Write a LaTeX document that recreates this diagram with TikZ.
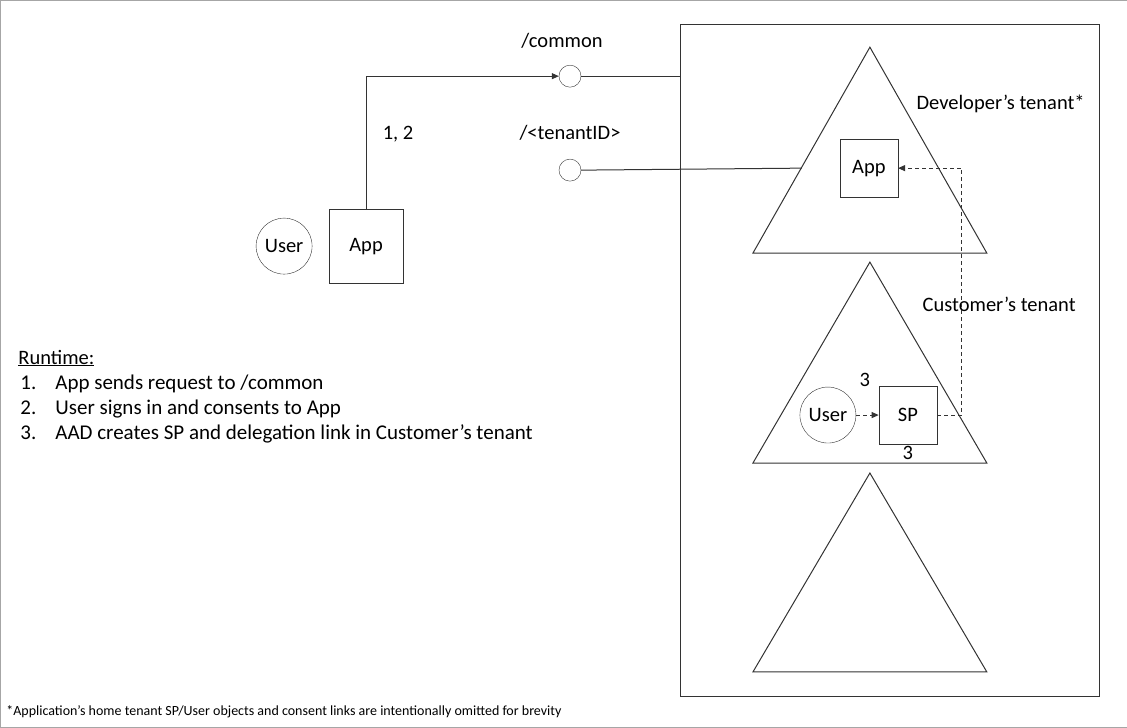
\documentclass[tikz,border=0pt]{standalone}
\usepackage{fontspec}
\setmainfont{Carlito}
\usetikzlibrary{arrows.meta,positioning}

\begin{document}
\begin{tikzpicture}[x=1pt, y=-1pt,
  every node/.style = {font=\fontsize{20.5}{24}\selectfont, inner sep=0pt},
  box/.style = {shape=rectangle, draw=black!80, minimum size=58pt},
  usr/.style = {shape=circle, draw=black!80, minimum size=56pt},
  port/.style = {shape=circle, draw=black!80, minimum size=22pt},
  wire/.style = {draw=black!80, line width=1pt},
  link/.style = {wire, dash pattern=on 4pt off 3pt},
  tip/.style = {-{Triangle[length=7pt,width=6pt]}}]
  % frame
  \draw[black!35] (0,0) rectangle (1127,727);
  \useasboundingbox (0,0) rectangle (1127,727);
  \draw[wire] (681,24) rectangle (1100,697);

  % tenants
  \draw[wire] (870,47) -- (987,253) -- (753,253) -- cycle;
  \draw[wire] (870,262) -- (987,463) -- (753,463) -- cycle;
  \draw[wire] (870,473) -- (987,672) -- (753,672) -- cycle;
  \node[anchor=east] (devlbl) at (1085,104) {Developer’s tenant*};
  \node[anchor=east] (custlbl) at (1076,304) {Customer’s tenant};

  % client side
  \node[usr] (user) at (284,246) {User};
  \node[box, minimum size=74pt] (app) at (366,246) {App};
  \node[port] (common) at (570,76) {};
  \node[port] (tenant) at (570,170) {};
  \node[above=16pt of common, xshift=-8pt] {/common};
  \node[above=18pt of tenant] {/<tenantID>};
  \node (steps) at (398,134) {1, 2};
  \coordinate (corner) at (366,76);
  \coordinate (edge) at (802,168);
  \draw[wire, tip] (app.north) -- (corner) -- (common.west);
  \draw[wire] (common.east) -- (681,76);
  \draw[wire] (tenant.east) -- (edge);

  % developer app and service principal
  \node[box] (devapp) at (869,168) {App};
  \node[usr] (cuser) at (828,415) {User};
  \node[box] (sp) at (908,415) {SP};
  \node (three) at (865,380) {3};
  \node[below=2pt of sp] {3};
  \coordinate (bend) at (962,415);
  \draw[link, tip] (cuser) -- (sp);
  \draw[link, tip] (sp.east) -- (bend) |- (devapp.east);

  % legend
  \node[anchor=west] (rt) at (18,358) {\underline{Runtime:}};
  \foreach \n/\t [count=\i] in {1/{App sends request to /common},
      2/{User signs in and consents to App},
      3/{AAD creates SP and delegation link in Customer’s tenant}}
    \node[anchor=west, font=\fontsize{21}{24}\selectfont] at (20,359+25*\i)
      {\makebox[35pt][l]{\n.}\t};
  \node[anchor=west, font=\fontsize{14}{16}\selectfont] (note) at (6,712)
    {*Application’s home tenant SP/User objects and consent links are intentionally omitted for brevity};
\end{tikzpicture}
\end{document}
